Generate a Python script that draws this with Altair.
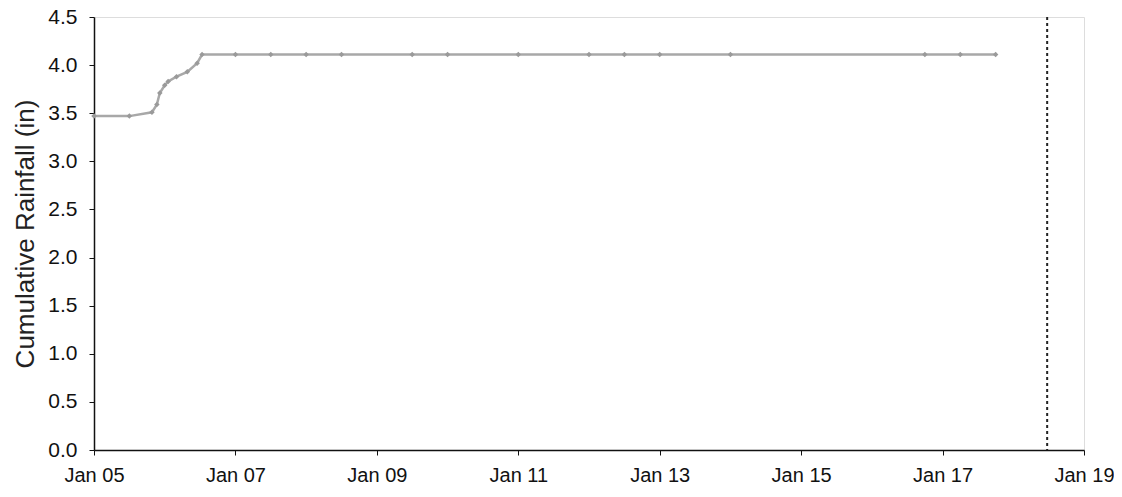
import altair as alt
import pandas as pd

# Observation times and cumulative rainfall (in)
times = [
    "2010-01-05T00:00", "2010-01-05T12:00", "2010-01-05T19:40", "2010-01-05T21:20",
    "2010-01-05T22:20", "2010-01-06T00:00", "2010-01-06T01:10", "2010-01-06T04:00",
    "2010-01-06T07:40", "2010-01-06T11:00", "2010-01-06T12:40", "2010-01-07T00:00",
    "2010-01-07T12:00", "2010-01-08T00:00", "2010-01-08T12:00", "2010-01-09T12:00",
    "2010-01-10T00:00", "2010-01-11T00:00", "2010-01-12T00:00", "2010-01-12T12:00",
    "2010-01-13T00:00", "2010-01-14T00:00", "2010-01-16T18:00", "2010-01-17T06:00",
    "2010-01-17T18:00",
]
rain = [
    3.47, 3.47, 3.51, 3.59,
    3.71, 3.79, 3.83, 3.88,
    3.93, 4.02, 4.11, 4.11,
    4.11, 4.11, 4.11, 4.11,
    4.11, 4.11, 4.11, 4.11,
    4.11, 4.11, 4.11, 4.11,
    4.11,
]
marker_line = ["2010-01-18T11:30"]
y_ticks = [0.0, 0.5, 1.0, 1.5, 2.0, 2.5, 3.0, 3.5, 4.0, 4.5]
x_tick_days = [5, 7, 9, 11, 13, 15, 17, 19]

df = pd.DataFrame({"t": times, "rain": rain})
rule_df = pd.DataFrame({"t": marker_line})

FONT = "Liberation Sans"

x_enc = alt.X(
    "t:T",
    scale=alt.Scale(domain=[alt.DateTime(year=2010, month=1, date=5),
                            alt.DateTime(year=2010, month=1, date=19)]),
    axis=alt.Axis(
        title=None,
        values=[alt.DateTime(year=2010, month=1, date=d) for d in x_tick_days],
        format="%b %d",
        grid=False,
        labelFlush=False,
        labelOverlap=False,
        tickSize=5,
        labelPadding=10,
        labelFontSize=20,
        labelFont=FONT,
        labelColor="#111",
        domainColor="#111",
        tickColor="#111",
        domainWidth=1.5,
    ),
)

y_enc = alt.Y(
    "rain:Q",
    scale=alt.Scale(domain=[0, 4.5], nice=False),
    axis=alt.Axis(
        title="Cumulative Rainfall (in)",
        values=y_ticks,
        format=".1f",
        grid=False,
        labelFlush=False,
        tickSize=5,
        labelPadding=12,
        labelFontSize=21,
        labelFont=FONT,
        labelColor="#111",
        titleFont=FONT,
        titleFontSize=26,
        titleFontWeight="normal",
        titleColor="#222",
        titlePadding=9,
        domainColor="#111",
        tickColor="#111",
        domainWidth=1.5,
    ),
)

line = alt.Chart(df).mark_line(color="#a8a8a8", strokeWidth=2.5).encode(x=x_enc, y=y_enc)
pts = alt.Chart(df).mark_point(
    shape="diamond", filled=True, color="#9a9a9a", size=30, opacity=1
).encode(x="t:T", y="rain:Q")

rule = alt.Chart(rule_df).mark_rule(
    color="#222", strokeWidth=2, strokeDash=[3, 3]
).encode(x="t:T")

chart = alt.layer(line, pts, rule).properties(
    width=990,
    height=433,
    padding={"left": 86, "top": 9, "right": 30, "bottom": 38},
    autosize=alt.AutoSizeParams(type="none"),
).configure_view(
    stroke="#222", strokeWidth=1.5
).configure(
    background="white"
)

chart.save("out.html", embed_options={"renderer": "svg", "actions": False})
